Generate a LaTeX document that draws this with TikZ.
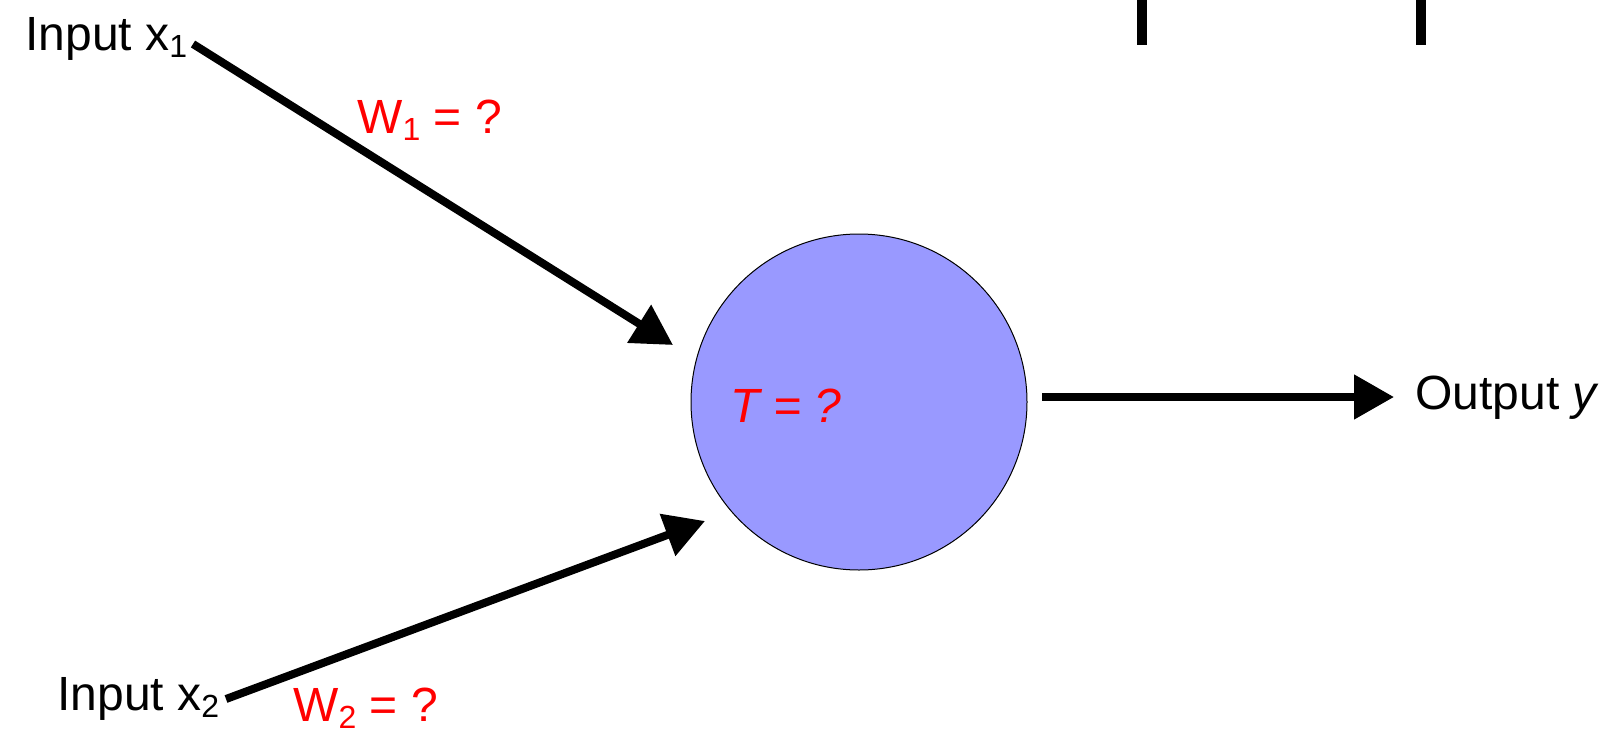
\documentclass[tikz,border=0pt]{standalone}
\usepackage{fontspec}
\setmainfont{Liberation Sans}
\usetikzlibrary{arrows.meta}
\newcommand\mysub[1]{\raisebox{-3.8pt}{\fontsize{16}{16}\selectfont #1}}
\definecolor{neuronblue}{RGB}{153,153,255}
\definecolor{labelred}{RGB}{255,0,0}
\begin{document}
\begin{tikzpicture}[x=0.5pt,y=-0.5pt,
  lbl/.style={anchor=base west,inner sep=0pt,font=\fontsize{24}{28}\selectfont},
  wlbl/.style={lbl,text=labelred},
  conn/.style={line width=4pt,-{Triangle[length=20pt,width=21.5pt]}},
  neuronstyle/.style={circle,draw=black,line width=0.5pt,fill=neuronblue,minimum size=168pt,inner sep=0pt}]
\useasboundingbox (0,0) rectangle (1607,734);
% top bars
\fill[black] (1137,0) rectangle (1147,45);
\fill[black] (1416,0) rectangle (1426,45);
% neuron
\node[neuronstyle] (neuron) at (859,402) {};
\node[wlbl,font=\fontsize{24}{28}\selectfont\itshape] (tlbl) at (730,422) {T = ?};
% labels
\node[lbl] (in1) at (25,50) {Input x\mysub{1}};
\node[lbl] (in2) at (57,710) {Input x\mysub{2}};
\node[lbl] (out) at (1415,409) {Output \textit{y}};
\node[wlbl] (w1) at (357,133) {W\mysub{1} = ?};
\node[wlbl] (w2) at (293,721) {W\mysub{2} = ?};
% connector ends
\coordinate (s1) at (193,44);
\coordinate (e1) at (673,345);
\coordinate (s2) at (226,699);
\coordinate (e2) at (705,521);
\coordinate (s3) at (1042,397);
\coordinate (e3) at (1394,397);
\draw[conn] (s1) -- (e1);
\draw[conn] (s2) -- (e2);
\draw[conn] (s3) -- (e3);
\end{tikzpicture}
\end{document}
